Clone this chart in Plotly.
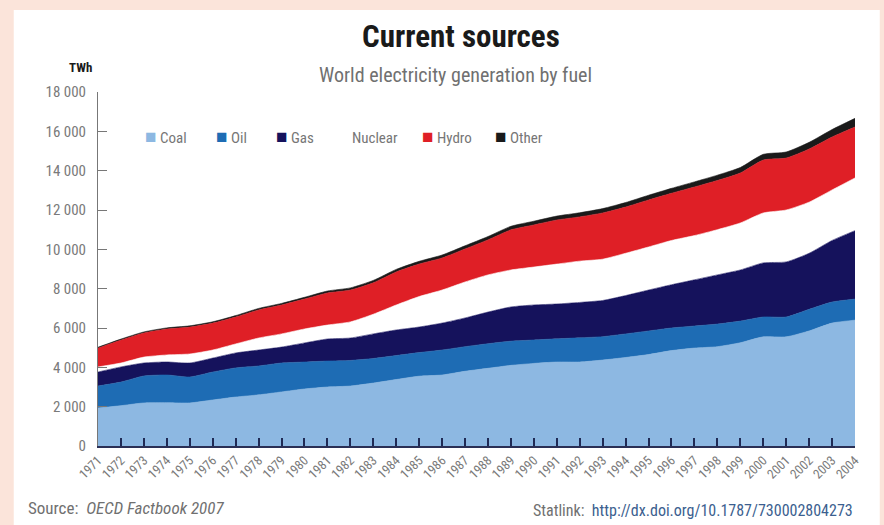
import plotly.graph_objects as go

# World electricity generation by fuel, TWh
years = list(range(1971, 2005))

coal = [1930, 2050, 2190, 2200, 2190, 2340, 2490, 2600, 2750, 2900,
        3000, 3050, 3200, 3380, 3550, 3610, 3800, 3950, 4100, 4200,
        4270, 4270, 4370, 4500, 4650, 4850, 4980, 5050, 5250, 5550,
        5550, 5850, 6250, 6400]
oil = [1120, 1200, 1370, 1410, 1320, 1420, 1480, 1470, 1470, 1370,
       1320, 1300, 1250, 1220, 1200, 1270, 1250, 1250, 1230, 1190,
       1180, 1230, 1190, 1200, 1200, 1150, 1120, 1150, 1100, 1010,
       1010, 1100, 1070, 1070]
gas = [710, 770, 660, 660, 710, 710, 760, 810, 810, 970,
       1120, 1140, 1250, 1300, 1300, 1370, 1460, 1610, 1740, 1780,
       1770, 1800, 1840, 1950, 2080, 2200, 2350, 2500, 2600, 2750,
       2800, 2850, 3130, 3480]
nuclear = [260, 200, 300, 360, 460, 410, 460, 610, 670, 710,
           710, 820, 1000, 1270, 1550, 1680, 1830, 1890, 1880, 1930,
           2030, 2100, 2100, 2150, 2190, 2250, 2250, 2300, 2390, 2540,
           2640, 2600, 2570, 2680]
hydro = [960, 1170, 1230, 1320, 1370, 1370, 1370, 1430, 1470, 1520,
         1630, 1620, 1600, 1680, 1650, 1630, 1680, 1780, 2040, 2140,
         2240, 2250, 2350, 2350, 2390, 2400, 2470, 2500, 2540, 2690,
         2640, 2700, 2690, 2590]
other = [40, 45, 50, 55, 60, 65, 70, 75, 80, 90,
         100, 110, 120, 130, 140, 150, 160, 170, 180, 190,
         200, 210, 220, 230, 240, 250, 260, 270, 280, 290,
         310, 340, 380, 440]

fuels = ["Coal", "Oil", "Gas", "Nuclear", "Hydro", "Other"]
values = [coal, oil, gas, nuclear, hydro, other]
colors = ["#8db8e2", "#1e6cb4", "#15125c", "#ffffff", "#df1f26", "#1a1a1a"]

y_ticks = list(range(0, 18001, 2000))

FONT = "Liberation Sans Narrow, Roboto Condensed, Arial Narrow, Roboto, sans-serif"
GREY = "#707070"

fig = go.Figure()
for name, vals, color in zip(fuels, values, colors):
    fig.add_trace(go.Scatter(
        x=years, y=vals, name=name, mode="lines",
        stackgroup="fuel", fillcolor=color,
        line=dict(width=0.6, color=color, shape="spline", smoothing=0.6),
        showlegend=False,
    ))

# Key: coloured square followed by the fuel name, in one row inside the plot
key_x = [0.060, 0.153, 0.232, 0.313, 0.426, 0.522]
for name, color, kx in zip(fuels, colors, key_x):
    fig.add_annotation(
        text=f"<span style='color:{color};font-size:19px'>■</span> {name}",
        xref="paper", yref="paper", x=kx, y=0.873, xanchor="left", yanchor="middle",
        showarrow=False, font=dict(size=15, color="#767676", family=FONT),
    )

fig.update_layout(
    width=884, height=525,
    margin=dict(l=98, r=29, t=92, b=79),
    paper_bgcolor="#fbe4da",
    plot_bgcolor="#e4e5f4",
    separators=". ",
    font=dict(family=FONT, color=GREY, size=13),
    shapes=[dict(type="rect", xref="paper", yref="paper",
                 x0=-0.1113, x1=1.0327, y0=-0.2232, y1=1.2316,
                 fillcolor="#ffffff", line=dict(width=0), layer="below")],
)

fig.update_xaxes(
    range=[1971, 2004], tickmode="array", tickvals=years,
    ticktext=[str(y) for y in years], tickangle=-45,
    ticks="inside", ticklen=8, tickwidth=1.5, tickcolor="#1f2a55",
    showline=True, linecolor="#2a2f55", linewidth=1.5,
    showgrid=False, zeroline=False,
    tickfont=dict(size=13, color="#7a7a7a"),
)
fig.update_yaxes(
    range=[0, 18000], tickmode="array", tickvals=y_ticks, tickformat=",d",
    ticks="inside", ticklen=9, tickwidth=1, tickcolor="#777777",
    showline=True, linecolor="#777777", linewidth=1,
    showgrid=False, zeroline=False, ticklabelstandoff=8,
    tickfont=dict(size=15, color="#7a7a7a"),
)

fig.add_annotation(text="<b>Current sources</b>", xref="paper", yref="paper",
                   x=0.48, y=1.0, yshift=56, yanchor="middle", showarrow=False,
                   font=dict(size=31, color="#1a1a1a", family=FONT))
fig.add_annotation(text="World electricity generation by fuel", xref="paper", yref="paper",
                   x=0.472, y=1.0, yshift=17, yanchor="middle", showarrow=False,
                   font=dict(size=20, color=GREY, family=FONT))
fig.add_annotation(text="<b>TWh</b>", xref="paper", yref="paper",
                   x=0.0, y=1.0, xshift=-4, yshift=25, xanchor="right", yanchor="middle",
                   showarrow=False, font=dict(size=13, color="#1a1a1a", family=FONT))
fig.add_annotation(text="Source:  <i>OECD Factbook 2007</i>", xref="paper", yref="paper",
                   x=0.0, y=0.0, xshift=-72, yshift=-62, xanchor="left", yanchor="middle",
                   showarrow=False, font=dict(size=17, color=GREY, family=FONT))
fig.add_annotation(text="Statlink:  <span style='color:#3c5f8f'>http://dx.doi.org/10.1787/730002804273</span>",
                   xref="paper", yref="paper",
                   x=1.0, y=0.0, xanchor="right", yanchor="middle", yshift=-64, showarrow=False,
                   font=dict(size=16, color=GREY, family=FONT))

fig.write_html("out.html")
